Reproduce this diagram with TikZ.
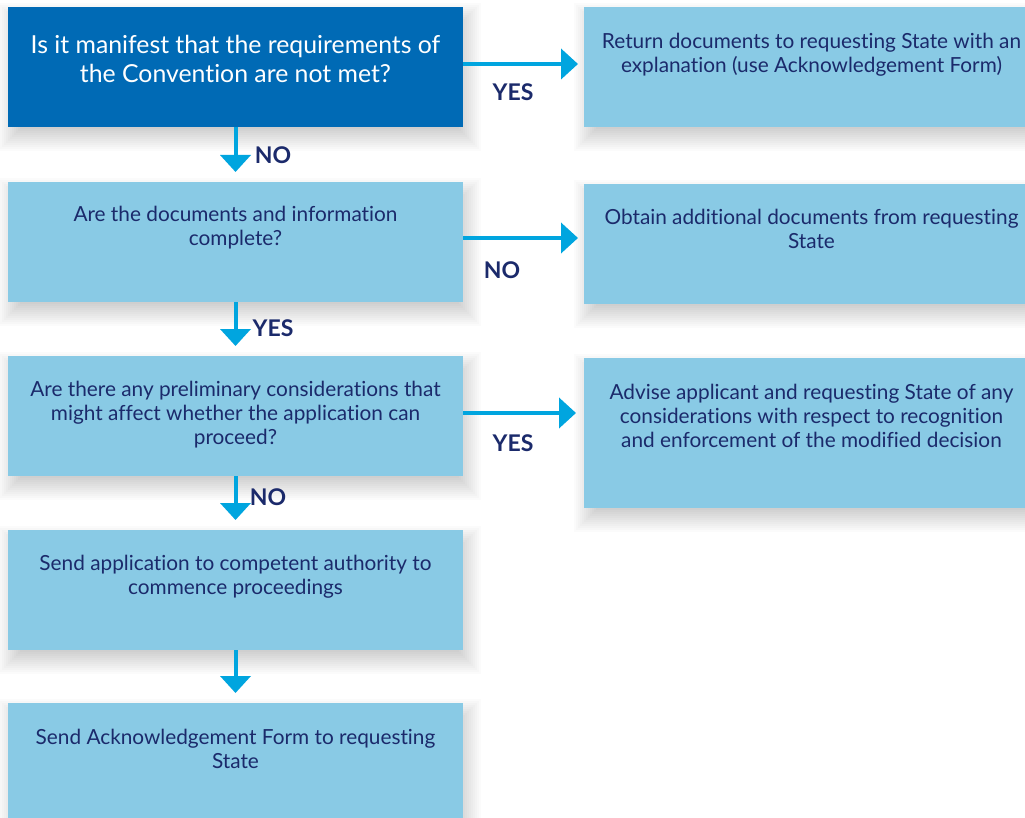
\documentclass[tikz,border=0pt]{standalone}
\usepackage{fontspec}
\setmainfont{Lato}[Ligatures={NoCommon,NoRare},Contextuals={NoAlternate}]
\usetikzlibrary{arrows.meta,backgrounds}
\definecolor{darkbox}{HTML}{006AB5}
\definecolor{lightbox}{HTML}{89CAE5}
\definecolor{navy}{HTML}{1B2A6B}
\definecolor{arrowc}{HTML}{00A5DF}
\begin{document}
\begin{tikzpicture}[x=1pt,y=1pt,
 box/.style={rectangle, fill=lightbox, draw=none, minimum width=455pt, minimum height=120pt,
   inner sep=0pt, outer sep=0pt, anchor=north west},
 shadowlayer/.style={fill=black, fill opacity=0.016, draw=none},
 txt/.style={anchor=north, align=center, text=navy, inner sep=0pt, font=\fontsize{20.8}{24}\selectfont},
 lab/.style={text=navy, font=\bfseries\fontsize{23}{24}\selectfont, inner sep=0pt},
 arr/.style={draw=arrowc, line width=4pt, -{Triangle[width=30pt,length=17pt]}},
]
\useasboundingbox (0,0) rectangle (1025,-818);
\node[box, fill=darkbox] (b1) at (8,-7) {};
\node[box] (r1) at (584,-7) {};
\node[box] (b2) at (8,-182) {};
\node[box] (r2) at (584,-184) {};
\node[box] (b3) at (8,-356) {};
\node[box, minimum height=150pt] (r3) at (584,-358) {};
\node[box] (b4) at (8,-530) {};
\node[box] (b5) at (8,-703) {};

\begin{scope}[on background layer]
  \fill[white] (0,0) rectangle (1025,-818);
  \foreach \n in {b1,r1,b2,r2,b3,r3,b4,b5}{
    \foreach \d in {-14,-12,...,14}{
      \fill[shadowlayer] ([shift={({4-(\d)},{-10-(\d)})}]\n.south west) rectangle ([shift={({4+(\d)},{-10+(\d)})}]\n.north east);
    }
  }
\end{scope}

\node[txt, text=white, font=\fontsize{24.8}{29}\selectfont] (t1) at ([yshift=-28pt]b1.north) {Is it manifest that the requirements of\\the Convention are not met?};
\node[txt] (tr1) at ([yshift=-26pt]r1.north) {Return documents to requesting State with an\\explanation (use Acknowledgement Form)};
\node[txt] (t2) at ([yshift=-24pt]b2.north) {Are the documents and information\\complete?};
\node[txt] (tr2) at ([yshift=-25pt]r2.north) {Obtain additional documents from requesting\\State};
\node[txt] (t3) at ([yshift=-25pt]b3.north) {Are there any preliminary considerations that\\might affect whether the application can\\proceed?};
\node[txt] (tr3) at ([yshift=-26pt]r3.north) {Advise applicant and requesting State of any\\considerations with respect to recognition\\and enforcement of the modified decision};
\node[txt] (t4) at ([yshift=-25pt]b4.north) {Send application to competent authority to\\commence proceedings};
\node[txt] (t5) at ([yshift=-26pt]b5.north) {Send Acknowledgement Form to requesting\\State};

\draw[arr, shorten >=10pt] (b1) -- (b2);
\draw[arr, shorten >=10pt] (b2) -- (b3);
\draw[arr, shorten >=10pt] (b3) -- (b4);
\draw[arr, shorten >=10pt] (b4) -- (b5);
\draw[arr, shorten >=6pt] ([yshift=3pt]b1.east) -- ([yshift=3pt]b1.east -| r1.west);
\draw[arr, shorten >=6pt] ([yshift=4pt]b2.east) -- ([yshift=4pt]b2.east -| r2.west);
\draw[arr, shorten >=8pt] ([yshift=3pt]b3.east) -- ([yshift=3pt]b3.east -| r3.west);

\node[lab] (yes1) at (513,-92) {YES};
\node[lab] (no1) at (273,-155) {NO};
\node[lab] (no2) at (502,-270) {NO};
\node[lab] (yes2) at (273,-328) {YES};
\node[lab] (yes3) at (513,-443) {YES};
\node[lab] (no3) at (268,-497) {NO};
\end{tikzpicture}
\end{document}
